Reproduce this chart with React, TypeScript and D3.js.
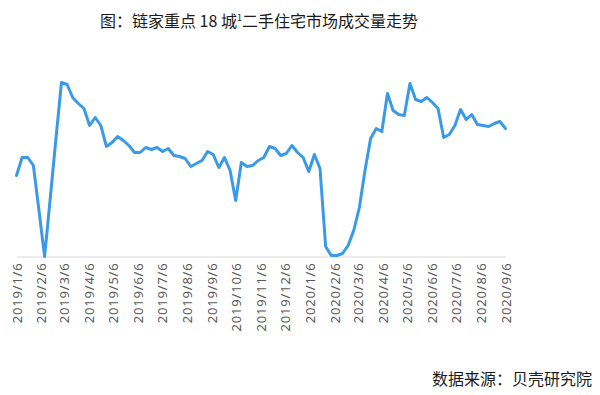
import React, { useEffect, useRef } from 'react'
import * as d3 from 'd3'

const title = '图：链家重点 18 城'
const titleSup = '1'
const titleRest = '二手住宅市场成交量走势'
const source = '数据来源：贝壳研究院'

// weekly volume index, first week 2019/1/6
const firstWeek = '2019/1/6'
const volume = [
  81, 99, 99, 91, 46, 0, 58, 117, 174, 172,
  159, 153, 148, 131, 139, 131, 110, 114, 120, 116,
  111, 104, 104, 109, 107, 109, 105, 108, 101, 100,
  98, 90, 93, 96, 105, 102, 89, 99, 86, 56,
  94, 90, 91, 96, 99, 110, 108, 101, 103, 111,
  104, 99, 85, 102, 88, 10, 1, 1, 3, 11,
  26, 49, 86, 118, 128, 125, 163, 146, 142, 141,
  173, 157, 155, 159, 154, 148, 119, 122, 131, 147,
  137, 142, 132, 131, 130, 133, 135, 128,
]

const tickLabels = [
  '2019/1/6', '2019/2/6', '2019/3/6', '2019/4/6', '2019/5/6', '2019/6/6',
  '2019/7/6', '2019/8/6', '2019/9/6', '2019/10/6', '2019/11/6', '2019/12/6',
  '2020/1/6', '2020/2/6', '2020/3/6', '2020/4/6', '2020/5/6', '2020/6/6',
  '2020/7/6', '2020/8/6', '2020/9/6',
]

const parse = d3.timeParse('%Y/%-m/%-d')

const App: React.FC = () => {
  const svgRef = useRef<SVGSVGElement | null>(null)

  useEffect(() => {
    if (!svgRef.current) return
    const svg = d3.select(svgRef.current)
    svg.selectAll('*').remove()

    const start = parse(firstWeek)!
    const data = volume.map((v, i) => ({
      date: d3.timeDay.offset(start, i * 7),
      value: v,
    }))
    const ticks = tickLabels.map((t) => parse(t)!)

    const x = d3
      .scaleTime()
      .domain([start, data[data.length - 1].date])
      .range([16.5, 505.5])
    const y = d3.scaleLinear().domain([0, 175]).range([256.5, 81.5])

    // title
    const t = svg
      .append('text')
      .attr('x', 100)
      .attr('y', 27)
      .attr('font-size', 16)
      .attr('fill', '#1a1a1a')
      .style('font-family', '"Noto Sans CJK SC", sans-serif')
    t.append('tspan').text(title)
    t.append('tspan').attr('font-size', 9).attr('dy', -6).text(titleSup)
    t.append('tspan').attr('dy', 6).text(titleRest)

    // x axis
    const axis = svg
      .append('g')
      .attr('transform', `translate(0,${y(0)})`)
      .call(
        d3
          .axisBottom(x)
          .tickValues(ticks)
          .tickSize(0)
          .tickPadding(6)
          .tickFormat((d, i) => tickLabels[i]),
      )
    axis.select('.domain').attr('stroke', '#d9d9d9').attr('stroke-width', 1)
    axis
      .selectAll('text')
      .attr('transform', 'rotate(-90)')
      .attr('x', -6)
      .attr('y', 0)
      .attr('dy', '0.35em')
      .attr('text-anchor', 'end')
      .attr('fill', '#595959')
      .attr('font-size', 13)
      .style('letter-spacing', '0.8px')
      .style('font-family', '"Noto Sans", sans-serif')

    // line
    const line = d3
      .line<{ date: Date; value: number }>()
      .x((d) => x(d.date))
      .y((d) => y(d.value))

    svg
      .append('path')
      .datum(data)
      .attr('d', line)
      .attr('fill', 'none')
      .attr('stroke', '#3B9AE8')
      .attr('stroke-width', 3)
      .attr('stroke-linejoin', 'round')
      .attr('stroke-linecap', 'round')

    // source
    svg
      .append('text')
      .attr('x', 592)
      .attr('y', 385)
      .attr('text-anchor', 'end')
      .attr('font-size', 16)
      .attr('fill', '#1a1a1a')
      .style('font-family', '"Noto Sans CJK SC", sans-serif')
      .text(source)
  }, [])

  return (
    <div style={{ position: 'absolute', left: 0, top: 0 }}>
      <svg ref={svgRef} width={600} height={395} style={{ display: 'block', background: '#fff' }} />
    </div>
  )
}

export default App
